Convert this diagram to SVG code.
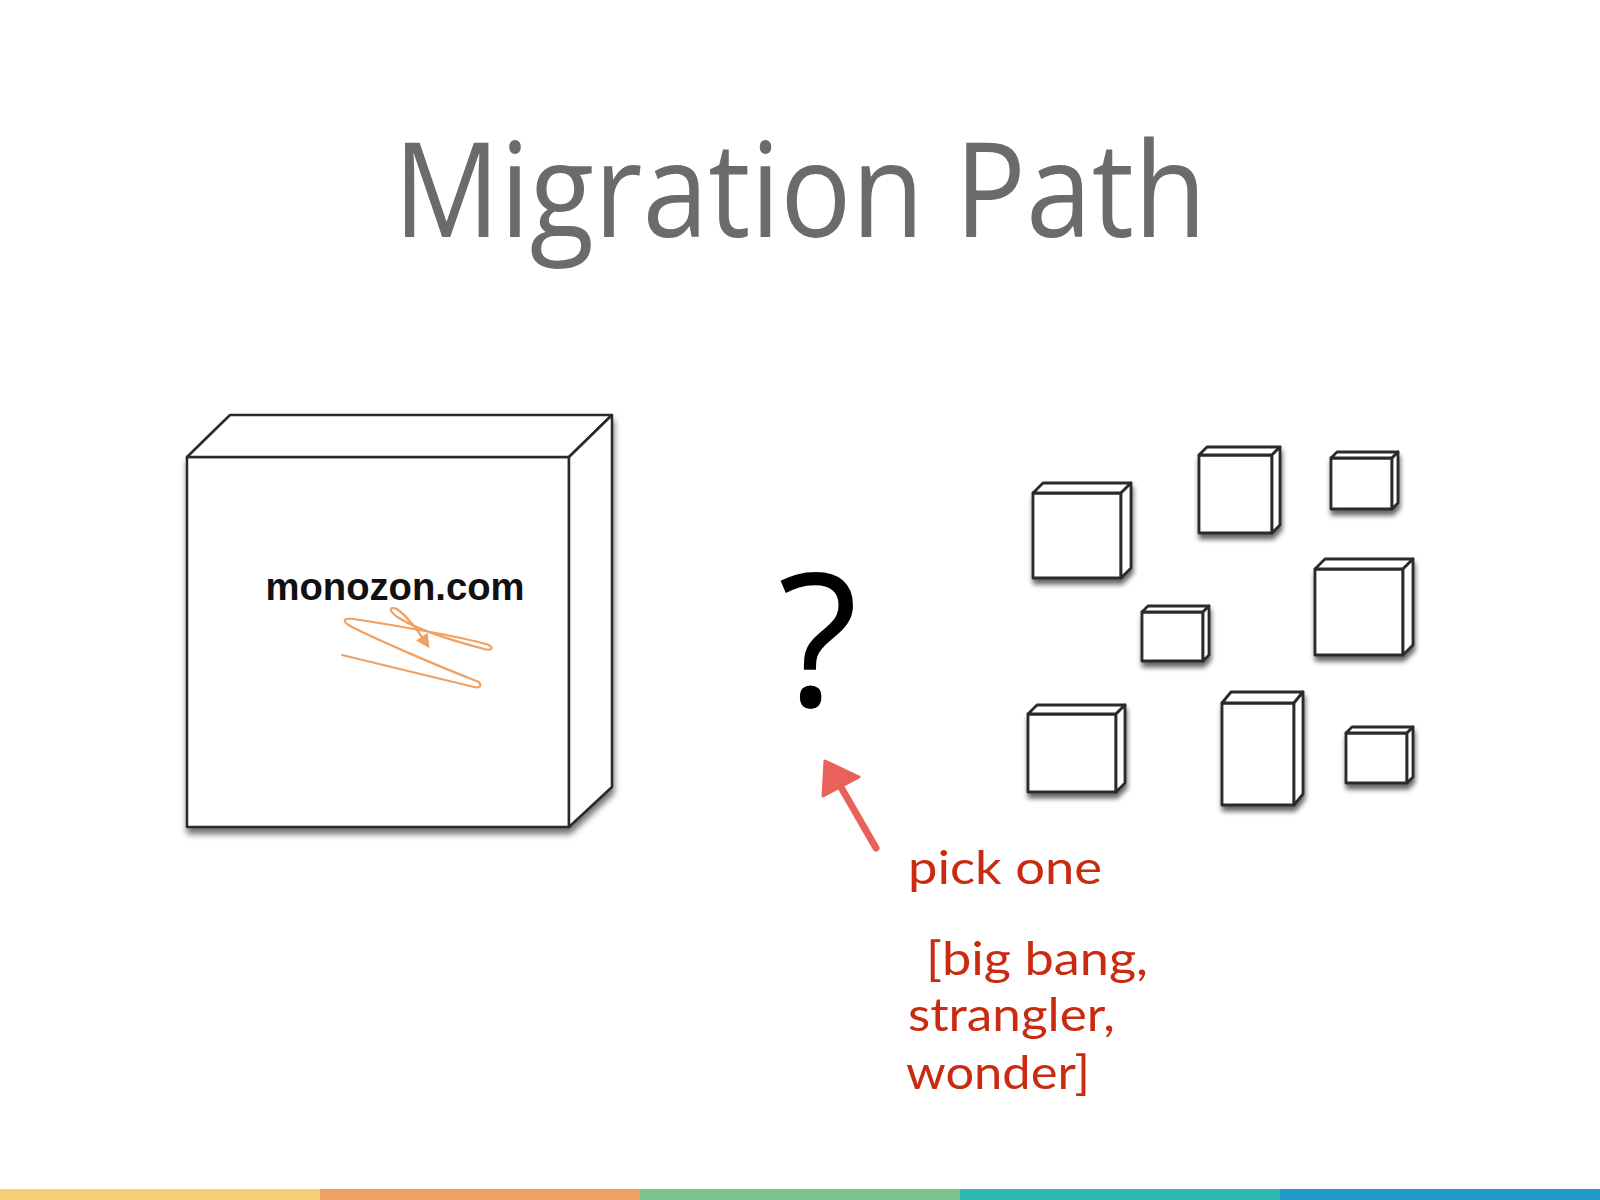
<svg xmlns="http://www.w3.org/2000/svg" width="1600" height="1200" viewBox="0 0 1600 1200">
<defs>
<style>
.box path, .box rect, .box polygon { fill:#fff; stroke:#2a2a2a; stroke-linejoin:round; }
.big polygon, .big rect { stroke-width:2.5; }
.small polygon, .small rect { stroke-width:2.8; }
.hand { font-family:"Lato","Open Sans",sans-serif; fill:#c92a10; font-size:46px; }
</style>
<filter id="sh" x="-20%" y="-20%" width="150%" height="150%">
<feDropShadow dx="1" dy="6" stdDeviation="3" flood-color="#000" flood-opacity="0.55"/>
</filter>
<filter id="shs" x="-20%" y="-20%" width="150%" height="150%">
<feDropShadow dx="1" dy="5" stdDeviation="2.5" flood-color="#000" flood-opacity="0.6"/>
</filter>
<marker id="oa" viewBox="0 0 10 10" refX="8" refY="5" markerWidth="15" markerHeight="14" orient="auto" markerUnits="userSpaceOnUse">
<path d="M0,0 L10,5 L0,10 z" fill="#f0a060"/>
</marker>
</defs>
<rect width="1600" height="1200" fill="#fff"/>
<text id="title" x="800" y="237" text-anchor="middle" font-family="Open Sans, sans-serif" font-weight="400" font-size="132" fill="#6b6b6b" textLength="813" lengthAdjust="spacingAndGlyphs">Migration Path</text>

<g id="monolith" class="box big" filter="url(#sh)">
<rect x="187" y="457" width="382" height="370"/>
<polygon points="187,457 230,415 612,415 569,457"/>
<polygon points="569,457 612,415 612,787 569,827"/>
</g>
<text id="monolith-label" x="395" y="600" text-anchor="middle" font-family="Liberation Sans, Arial, sans-serif" font-weight="bold" font-size="38" fill="#111" textLength="259" lengthAdjust="spacingAndGlyphs">monozon.com</text>
<g id="scribble" fill="none" stroke="#f0a060" stroke-width="2.2" stroke-linecap="round">
<path d="M342,655 C400,669 450,681 474,687 C482,689 483,683 474,680 C440,667 380,641 352,627 C341,621 343,618 354,619 C400,626 460,637 486,644 C495,647 493,651 484,649 C450,640 415,628 399,618 C388,611 389,606 397,609 C408,617 416,628 428,646" marker-end="url(#oa)"/>
</g>

<g id="services" class="box small" filter="url(#shs)">
<g id="svc1"><rect x="1033" y="493" width="88" height="85"/><polygon points="1033,493 1043,483 1131,483 1121,493"/><polygon points="1121,493 1131,483 1131,568 1121,578"/></g>
<g id="svc2"><rect x="1199" y="455" width="73" height="78"/><polygon points="1199,455 1207,447 1280,447 1272,455"/><polygon points="1272,455 1280,447 1280,525 1272,533"/></g>
<g id="svc3"><rect x="1331" y="458" width="61" height="51"/><polygon points="1331,458 1337,452 1398,452 1392,458"/><polygon points="1392,458 1398,452 1398,503 1392,509"/></g>
<g id="svc4"><rect x="1142" y="612" width="61" height="49"/><polygon points="1142,612 1148,606 1209,606 1203,612"/><polygon points="1203,612 1209,606 1209,655 1203,661"/></g>
<g id="svc5"><rect x="1315" y="569" width="88" height="86"/><polygon points="1315,569 1325,559 1413,559 1403,569"/><polygon points="1403,569 1413,559 1413,645 1403,655"/></g>
<g id="svc6"><rect x="1028" y="714" width="88" height="78"/><polygon points="1028,714 1037,705 1125,705 1116,714"/><polygon points="1116,714 1125,705 1125,783 1116,792"/></g>
<g id="svc7"><rect x="1222" y="703" width="72" height="102"/><polygon points="1222,703 1231,692 1303,692 1294,703"/><polygon points="1294,703 1303,692 1303,794 1294,805"/></g>
<g id="svc8"><rect x="1346" y="733" width="61" height="50"/><polygon points="1346,733 1352,727 1413,727 1407,733"/><polygon points="1407,733 1413,727 1413,777 1407,783"/></g>
</g>

<text id="question" x="818" y="706" text-anchor="middle" font-family="Open Sans, sans-serif" font-size="186" fill="#000">?</text>

<g id="connectors">
<g id="red-arrow" fill="#e8615a" stroke="#e8615a" stroke-linecap="round" stroke-linejoin="round">
<line x1="876" y1="848" x2="838" y2="782" stroke-width="7"/>
<polygon points="825,761 823,796 859,777" stroke-width="3"/>
</g>
</g>

<g id="note">
<text class="hand" x="908" y="884" textLength="194" lengthAdjust="spacingAndGlyphs">pick one</text>
<text class="hand" x="926" y="975" textLength="222" lengthAdjust="spacingAndGlyphs">[big bang,</text>
<text class="hand" x="908" y="1031" textLength="207" lengthAdjust="spacingAndGlyphs">strangler,</text>
<text class="hand" x="906" y="1089" textLength="184" lengthAdjust="spacingAndGlyphs">wonder]</text>
</g>

<g id="footer-bar">
<rect x="0" y="1189" width="320" height="11" fill="#f7cf74"/>
<rect x="320" y="1189" width="320" height="11" fill="#f0a065"/>
<rect x="640" y="1189" width="320" height="11" fill="#7bc68e"/>
<rect x="960" y="1189" width="320" height="11" fill="#33b8b0"/>
<rect x="1280" y="1189" width="320" height="11" fill="#2399c8"/>
</g>
</svg>
